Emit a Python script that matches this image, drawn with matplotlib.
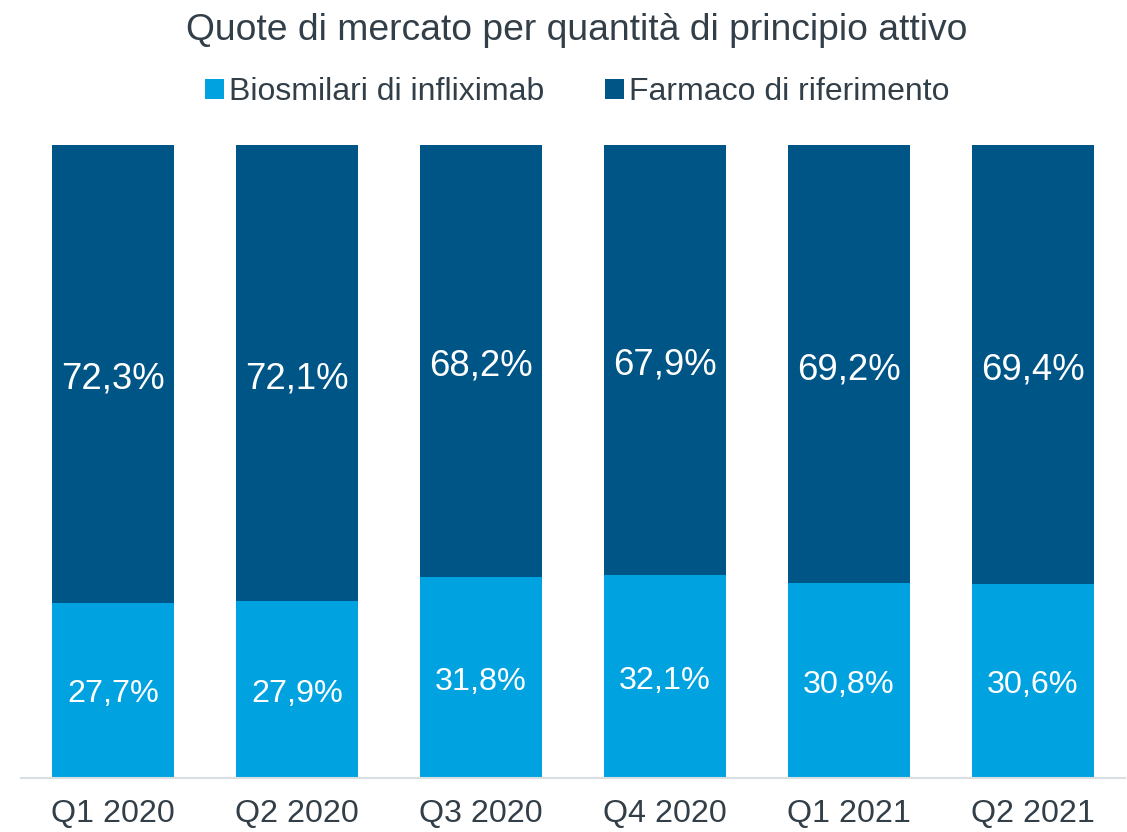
import matplotlib
matplotlib.use("Agg")
import matplotlib.pyplot as plt
import numpy as np

plt.rcParams['font.family'] = ['Liberation Sans', 'DejaVu Sans']

quarters = ['Q1 2020', 'Q2 2020', 'Q3 2020', 'Q4 2020', 'Q1 2021', 'Q2 2021']
biosimilari = [27.7, 27.9, 31.8, 32.1, 30.8, 30.6]
riferimento = [72.3, 72.1, 68.2, 67.9, 69.2, 69.4]

light = '#00A3E0'
dark = '#005587'
txt = '#333F48'

W, H = 1127, 832
fig = plt.figure(figsize=(W / 100, H / 100), dpi=100)
ax = fig.add_axes([21 / W, (H - 778) / H, (1125 - 21) / W, (778 - 145) / H])

x = np.arange(len(quarters))
b1 = ax.bar(x, biosimilari, width=0.665, color=light, label='Biosmilari di infliximab')
b2 = ax.bar(x, riferimento, width=0.665, bottom=biosimilari, color=dark, label='Farmaco di riferimento')

for i in range(len(quarters)):
    ax.annotate(f'{biosimilari[i]:.1f}%'.replace('.', ','), (x[i], biosimilari[i] / 2),
                xytext=(0, -3), textcoords='offset points',
                ha='center', va='center', color='white', fontsize=23.3)
    ax.annotate(f'{riferimento[i]:.1f}%'.replace('.', ','), (x[i], biosimilari[i] + riferimento[i] / 2),
                xytext=(0, -4), textcoords='offset points',
                ha='center', va='center', color='white', fontsize=26.3)

ax.set_xlim(-0.5, 5.5)
ax.set_ylim(0, 100)
ax.set_xticks(x)
ax.set_xticklabels(quarters, fontsize=23.2, color=txt)
ax.tick_params(axis='x', length=0, pad=15)
ax.set_yticks([])
for s in ['top', 'right', 'left']:
    ax.spines[s].set_visible(False)
ax.spines['bottom'].set_color('#D9DEE3')
ax.spines['bottom'].set_linewidth(1.5)

fig.text(0.512, 1 - 31 / H, 'Quote di mercato per quantità di principio attivo',
         ha='center', va='center', fontsize=26.8, color=txt)
fig.legend(handles=[b1, b2], loc='center', bbox_to_anchor=(0.512, 1 - 92 / H),
           ncol=2, frameon=False, fontsize=23, labelcolor=txt,
           handlelength=0.6, handleheight=0.6, handletextpad=0.15, columnspacing=1.9)

fig.savefig('out.png', dpi=100)
